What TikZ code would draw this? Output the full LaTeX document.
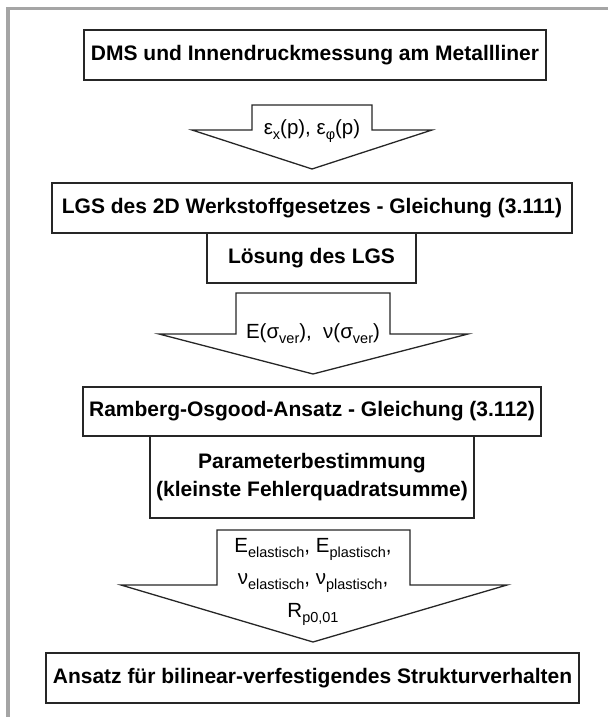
\documentclass[tikz,border=0pt]{standalone}
\usepackage{fontspec}
\setmainfont{Liberation Sans}
\definecolor{linegray}{HTML}{262626}
\definecolor{framegray}{HTML}{A5A5A5}
\newcommand{\lowsub}[1]{\raisebox{-5pt}{\fontsize{14.5}{14.5}\selectfont #1}}
\tikzset{
  stepbox/.style={draw=linegray, line width=1.3pt, fill=white, align=center, inner sep=0pt,
    font=\fontsize{21}{28}\selectfont\bfseries},
  blockarrow/.style={draw=linegray, line width=1.3pt, fill=white, line join=miter},
  arrowtext/.style={anchor=base, inner sep=0pt, font=\fontsize{20.5}{22}\selectfont},
}
\begin{document}
\begin{tikzpicture}[x=1pt, y=-1pt]
  \useasboundingbox (0,0) rectangle (608,717);
  % frame
  \draw[framegray, line width=3.5pt] (8,717) -- (8,8.5) -- (608,8.5);

  % boxes
  \node[stepbox, minimum width=462pt, minimum height=50pt] (dms) at (315,55) {DMS und Innendruckmessung am Metallliner};
  \node[stepbox, minimum width=520pt, minimum height=50pt] (lgs) at (312,208) {LGS des 2D Werkstoffgesetzes - Gleichung (3.111)};
  \node[stepbox, minimum width=209pt, minimum height=50pt] (loes) at (311.5,258) {Lösung des LGS};
  \node[stepbox, minimum width=458pt, minimum height=49pt] (ro) at (312,411.5) {Ramberg-Osgood-Ansatz - Gleichung (3.112)};
  \node[stepbox, minimum width=324pt, minimum height=82pt] (param) at (312,477) {Parameterbestimmung\\(kleinste Fehlerquadratsumme)};
  \node[stepbox, minimum width=533pt, minimum height=50pt] (bilin) at (312.5,678) {Ansatz für bilinear-verfestigendes Strukturverhalten};

  % block arrows
  \draw[blockarrow] (252,105) -- (372,105) -- (372,130) -- (432,130) -- (312,169)
    -- (192,130) -- (252,130) -- cycle;
  \draw[blockarrow] (236,293) -- (390,293) -- (390,334) -- (468,334) -- (313,374)
    -- (159,334) -- (236,334) -- cycle;
  \draw[blockarrow] (217,530) -- (410,530) -- (410,585) -- (507,585) -- (313,642)
    -- (121,585) -- (217,585) -- cycle;

  % arrow labels
  \node[arrowtext] (eps) at (312,134) {ε\lowsub{x}(p), ε\lowsub{φ}(p)};
  \node[arrowtext] (enu) at (313,338) {E(σ\lowsub{ver}),\ \ ν(σ\lowsub{ver})};
  \node[arrowtext] (par1) at (313,552) {E\lowsub{elastisch}, E\lowsub{plastisch},};
  \node[arrowtext] (par2) at (313,584) {ν\lowsub{elastisch}, ν\lowsub{plastisch},};
  \node[arrowtext] (par3) at (313,617) {R\lowsub{p0,01}};
\end{tikzpicture}
\end{document}
